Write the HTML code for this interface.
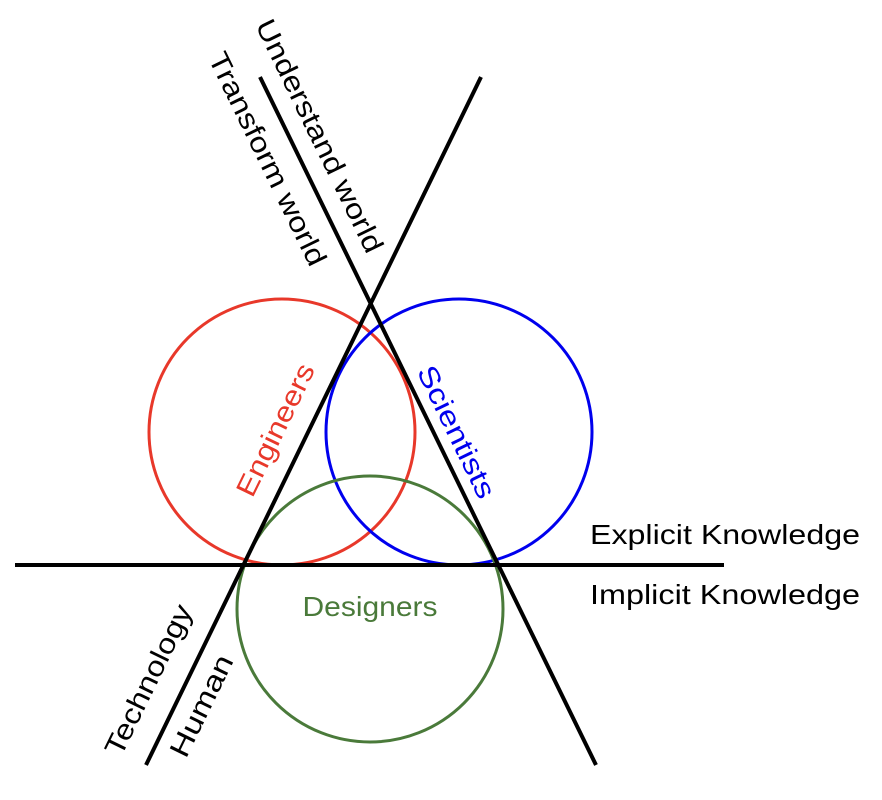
<!DOCTYPE html>
<html><head><meta charset="utf-8"><style>
html,body{margin:0;padding:0;background:#fff;}
svg{display:block;}
text{font-family:"Liberation Sans",sans-serif;font-size:28px;}
</style></head><body>
<svg width="882" height="800" viewBox="0 0 882 800" xmlns="http://www.w3.org/2000/svg">
<rect width="882" height="800" fill="#fff"/>
<circle cx="282" cy="432" r="133" fill="none" stroke="#e8382a" stroke-width="3"/>
<circle cx="459" cy="432" r="133" fill="none" stroke="#0000ee" stroke-width="3"/>
<circle cx="370" cy="609" r="133" fill="none" stroke="#4a7a3a" stroke-width="3"/>
<line x1="15" y1="565" x2="724" y2="565" stroke="#000" stroke-width="4"/>
<line x1="260" y1="77" x2="596" y2="765" stroke="#000" stroke-width="4"/>
<line x1="146" y1="765" x2="481" y2="77" stroke="#000" stroke-width="4"/>
<text x="0" y="0" text-anchor="middle" textLength="256" lengthAdjust="spacingAndGlyphs" transform="translate(311,140) rotate(64)">Understand world</text>
<text x="0" y="0" text-anchor="middle" textLength="234" lengthAdjust="spacingAndGlyphs" transform="translate(259,163) rotate(64)">Transform world</text>
<text x="0" y="0" text-anchor="middle" fill="#e8382a" textLength="144" lengthAdjust="spacingAndGlyphs" transform="translate(284,434) rotate(-64)">Engineers</text>
<text x="0" y="0" text-anchor="middle" fill="#0000ee" textLength="144" lengthAdjust="spacingAndGlyphs" transform="translate(448,436) rotate(64)">Scientists</text>
<text x="0" y="0" text-anchor="middle" textLength="164" lengthAdjust="spacingAndGlyphs" transform="translate(157,684) rotate(-64)">Technology</text>
<text x="0" y="0" text-anchor="middle" textLength="110" lengthAdjust="spacingAndGlyphs" transform="translate(210,710) rotate(-64)">Human</text>
<text x="370" y="616" text-anchor="middle" fill="#4a7a3a" textLength="135" lengthAdjust="spacingAndGlyphs">Designers</text>
<text x="590" y="544" textLength="270" lengthAdjust="spacingAndGlyphs">Explicit Knowledge</text>
<text x="590" y="604" textLength="270" lengthAdjust="spacingAndGlyphs">Implicit Knowledge</text>
</svg>
</body></html>
